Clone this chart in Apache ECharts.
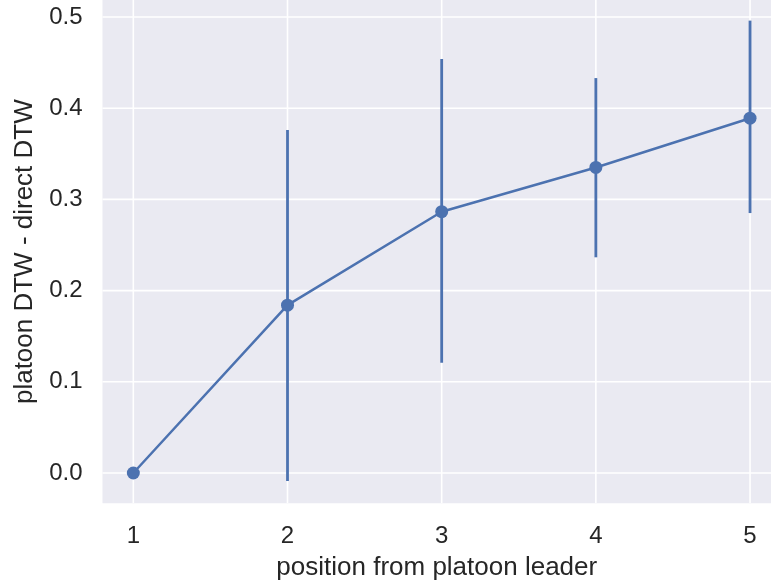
<!DOCTYPE html>
<html>
<head>
<meta charset="utf-8">
<script src="https://cdn.jsdelivr.net/npm/echarts@6/dist/echarts.min.js"></script>
<style>
html,body{margin:0;padding:0;background:#fff;}
#chart{width:771px;height:582px;}
</style>
</head>
<body>
<div id="chart"></div>
<script>
// Data
var positions = [1, 2, 3, 4, 5];
var means = [0.0, 0.184, 0.2865, 0.335, 0.389];
var ciLow = [0.0, -0.0088, 0.121, 0.2365, 0.285];
var ciHigh = [0.0, 0.376, 0.454, 0.433, 0.496];
var yTicks = [0.0, 0.1, 0.2, 0.3, 0.4, 0.5];
var xTicks = [1, 2, 3, 4, 5];

var color = '#4C72B0';
var textColor = '#262626';
var font = 'Liberation Sans, Arial, sans-serif';

var lineData = positions.map(function (p, i) { return [p, means[i]]; });
var errData = positions.map(function (p, i) { return [p, ciLow[i], ciHigh[i]]; });

// grid line records: [kind(0 = vertical, 1 = horizontal), value]
var gridData = [];
xTicks.forEach(function (v) { gridData.push([0, v]); });
yTicks.forEach(function (v) { gridData.push([1, v]); });

var chart = echarts.init(document.getElementById('chart'), null, { renderer: 'canvas' });
chart.setOption({
  animation: false,
  backgroundColor: '#ffffff',
  grid: {
    left: 102.5, right: 0, top: 0, bottom: 78.7,
    outerBoundsMode: 'none', containLabel: false,
    show: true, backgroundColor: '#EAEAF2', borderWidth: 0
  },
  xAxis: {
    type: 'value', min: 0.8, max: 5.136,
    name: 'position from platoon leader',
    nameLocation: 'middle', nameGap: 52,
    nameTextStyle: { color: textColor, fontSize: 26, fontFamily: font },
    axisLine: { show: false }, axisTick: { show: false },
    splitLine: { show: false },
    axisLabel: {
      customValues: xTicks, color: textColor, fontSize: 24, fontFamily: font, margin: 21,
      formatter: function (v) { return String(v); }
    }
  },
  yAxis: {
    type: 'value', min: -0.0332, max: 0.5186,
    name: 'platoon DTW - direct DTW',
    nameLocation: 'middle', nameGap: 63, nameRotate: 90,
    nameTextStyle: { color: textColor, fontSize: 26, fontFamily: font },
    axisLine: { show: false }, axisTick: { show: false },
    splitLine: { show: false },
    axisLabel: {
      customValues: yTicks, color: textColor, fontSize: 24, fontFamily: font, margin: 20,
      formatter: function (v) { return v.toFixed(1); }
    }
  },
  series: [
    {
      type: 'custom', z: 1, silent: true, clip: true,
      data: gridData,
      renderItem: function (params, api) {
        var cs = params.coordSys;
        var kind = api.value(0), v = api.value(1);
        var shape;
        if (kind === 0) {
          var px = api.coord([v, 0])[0];
          shape = { x1: px, y1: cs.y, x2: px, y2: cs.y + cs.height };
        } else {
          var py = api.coord([1, v])[1];
          shape = { x1: cs.x, y1: py, x2: cs.x + cs.width, y2: py };
        }
        return { type: 'line', shape: shape, style: { stroke: '#ffffff', lineWidth: 1.6 } };
      }
    },
    {
      type: 'custom', z: 3, silent: true,
      data: errData,
      renderItem: function (params, api) {
        var x = api.value(0);
        var lo = api.coord([x, api.value(1)]);
        var hi = api.coord([x, api.value(2)]);
        return {
          type: 'line',
          shape: { x1: lo[0], y1: lo[1], x2: hi[0], y2: hi[1] },
          style: { stroke: color, lineWidth: 2.8 }
        };
      }
    },
    {
      type: 'line', z: 4, silent: true,
      data: lineData,
      symbol: 'circle', symbolSize: 13, showSymbol: true,
      itemStyle: { color: color },
      lineStyle: { color: color, width: 2.5 }
    }
  ]
});
</script>
</body>
</html>
